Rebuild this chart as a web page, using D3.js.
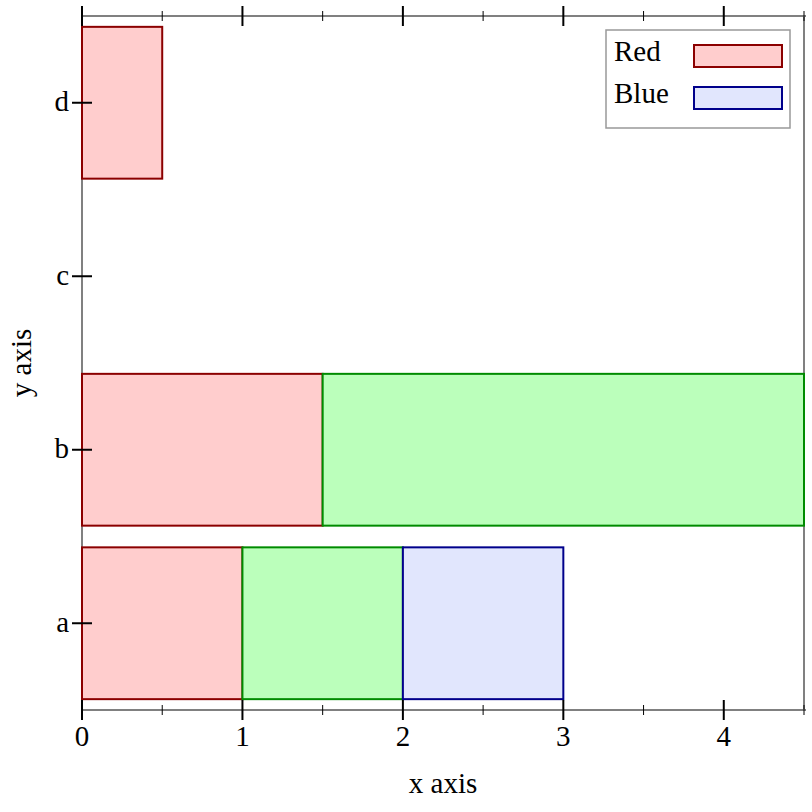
<!DOCTYPE html>
<html><head><meta charset="utf-8">
<script src="https://cdn.jsdelivr.net/npm/d3@7"></script>
<style>body{margin:0;background:#fff}svg{display:block}text{font-family:"Liberation Serif","Times New Roman",serif;fill:#000}</style>
</head><body><svg id="c" width="812" height="812"></svg>
<script>
const categories = ["a","b","c","d"];
const seriesNames = ["Red","Green","Blue"];
const redValues   = [1, 1.5, 0, 0.5];
const greenValues = [1, 3, 0, 0];
const blueValues  = [1, 0, 0, 0];
const xTicks = [0,1,2,3,4];
const xMinorTicks = [0.5,1.5,2.5,3.5,4.5];
const legendNames = ["Red","Blue"];

const fills = {Red:"#ffcdcd", Green:"#bbffbb", Blue:"#e1e6fd"};
const strokes = {Red:"#8b0000", Green:"#008b00", Blue:"#00008b"};
const FS = 29;

const svg = d3.select("#c");
const L=82, R=804, T=16, B=710;
const x = d3.scaleLinear().domain([0,4.5]).range([L,R]);
const y = d3.scaleBand().domain(categories).range([B,T]).paddingInner(0.125).paddingOuter(0.0625);

const rows = categories.map((c,i)=>({cat:c, Red:redValues[i], Green:greenValues[i], Blue:blueValues[i]}));
const stack = d3.stack().keys(seriesNames)(rows);

// axis frame lines
const g = svg.append("g");
g.append("line").attr("x1",L).attr("x2",L).attr("y1",T).attr("y2",B).attr("stroke","#808080").attr("stroke-width",2);
g.append("line").attr("x1",R).attr("x2",R).attr("y1",T).attr("y2",B).attr("stroke","#808080").attr("stroke-width",2);
g.append("line").attr("x1",L).attr("x2",R+2).attr("y1",T).attr("y2",T).attr("stroke","#808080").attr("stroke-width",2);
g.append("line").attr("x1",L).attr("x2",R+2).attr("y1",B).attr("y2",B).attr("stroke","#808080").attr("stroke-width",2);

// bars
stack.forEach(s=>{
  svg.append("g").selectAll("rect").data(s.filter(d=>d[1]-d[0]>0)).join("rect")
    .attr("x",d=>x(d[0])).attr("width",d=>x(d[1])-x(d[0]))
    .attr("y",d=>y(d.data.cat)).attr("height",y.bandwidth())
    .attr("fill",fills[s.key]).attr("stroke",strokes[s.key]).attr("stroke-width",2);
});

// x ticks (bottom and top)
[B,T].forEach(yy=>{
  svg.append("g").selectAll("line").data(xTicks).join("line")
    .attr("x1",d=>x(d)).attr("x2",d=>x(d)).attr("y1",yy-10).attr("y2",yy+10).attr("stroke","#000").attr("stroke-width",2);
  svg.append("g").selectAll("line").data(xMinorTicks).join("line")
    .attr("x1",d=>x(d)).attr("x2",d=>x(d)).attr("y1",yy-5).attr("y2",yy+5).attr("stroke","#000").attr("stroke-width",1);
});
svg.append("g").selectAll("text").data(xTicks).join("text")
  .attr("x",d=>x(d)).attr("y",746).attr("text-anchor","middle").attr("font-size",FS).text(d=>d);

// y ticks
svg.append("g").selectAll("line").data(categories).join("line")
  .attr("x1",L-10).attr("x2",L+10).attr("y1",d=>y(d)+y.bandwidth()/2).attr("y2",d=>y(d)+y.bandwidth()/2)
  .attr("stroke","#000").attr("stroke-width",2);
svg.append("g").selectAll("text").data(categories).join("text")
  .attr("x",69).attr("y",d=>y(d)+y.bandwidth()/2).attr("dy","0.3em").attr("text-anchor","end").attr("font-size",FS).text(d=>d);

// axis labels
svg.append("text").attr("x",(L+R)/2).attr("y",793).attr("text-anchor","middle").attr("font-size",FS).text("x axis");
svg.append("text").attr("transform","translate(31,363) rotate(-90)").attr("text-anchor","middle").attr("font-size",FS).text("y axis");

// legend
const lg = svg.append("g");
lg.append("rect").attr("x",606).attr("y",30).attr("width",184).attr("height",98).attr("fill","#fff").attr("stroke","#999").attr("stroke-width",1.5);
legendNames.forEach((n,i)=>{
  lg.append("text").attr("x",614).attr("y",61+i*42).attr("font-size",FS).text(n);
  lg.append("rect").attr("x",694).attr("y",45+i*42).attr("width",88).attr("height",22)
    .attr("fill",fills[n]).attr("stroke",strokes[n]).attr("stroke-width",2);
});
</script></body></html>
